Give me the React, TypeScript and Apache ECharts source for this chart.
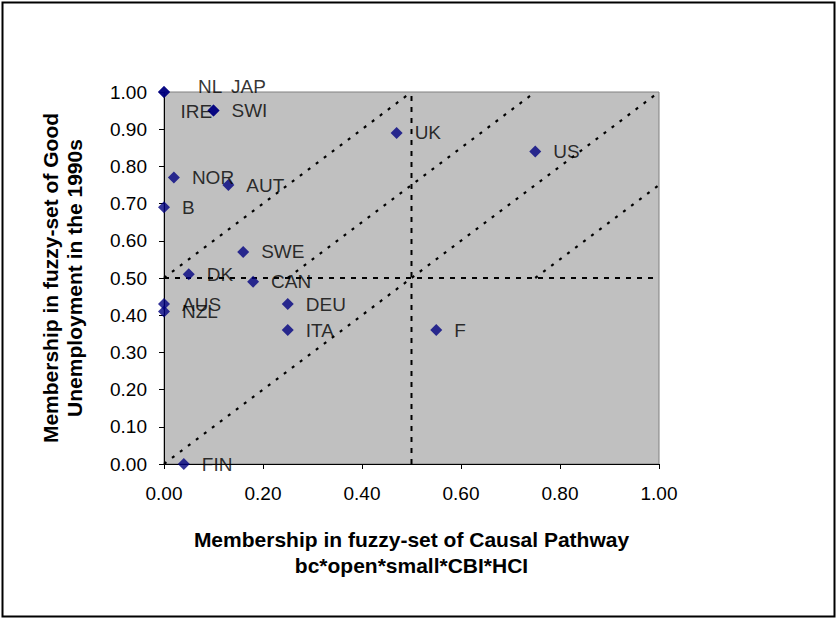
import React, { useEffect, useRef } from "react";
import * as echarts from "echarts";

// Countries and their fuzzy-set memberships
const countries = ["NL", "JAP", "IRE", "SWI", "NOR", "AUT", "B", "UK", "US", "SWE", "DK", "CAN", "AUS", "NZL", "DEU", "ITA", "F", "FIN"];
const pathwayMembership = [0.0, 0.0, 0.1, 0.1, 0.02, 0.13, 0.0, 0.47, 0.75, 0.16, 0.05, 0.18, 0.0, 0.0, 0.25, 0.25, 0.55, 0.04];
const goodUnemployment = [1.0, 1.0, 0.95, 0.95, 0.77, 0.75, 0.69, 0.89, 0.84, 0.57, 0.51, 0.49, 0.43, 0.41, 0.43, 0.36, 0.36, 0.0];

// Reference lines (in data coordinates)
const diagonalLines = [
  [[0, 0.5], [0.5, 1]],
  [[0, 0], [1, 1]],
  [[0.25, 0.5], [0.75, 1]],
  [[0.75, 0.5], [1, 0.75]],
];
const thresholdLines = [
  [[0, 0.5], [1, 0.5]],
  [[0.5, 0], [0.5, 1]],
];

const xTitle = "Membership in fuzzy-set of Causal Pathway\nbc*open*small*CBI*HCI";
const yTitle = "Membership in fuzzy-set of Good\nUnemployment in the 1990s";

// Label nudges (styling only)
const labelOffsets: Record<string, number[]> = {
  NL: [16, -6],
  JAP: [49, -6],
  IRE: [-51, 1],
};

const FONT = '"Liberation Sans", Arial, sans-serif';

export default function App() {
  const ref = useRef<HTMLDivElement>(null);
  useEffect(() => {
    if (!ref.current) return;
    const chart = echarts.init(ref.current, undefined, { renderer: "svg" });
    const points = countries.map((name, i) => ({
      name,
      value: [pathwayMembership[i], goodUnemployment[i]],
      label: { offset: labelOffsets[name] || [0, 0] },
    }));
    const series: any[] = [];
    diagonalLines.forEach((seg) =>
      series.push({
        type: "line",
        data: seg,
        showSymbol: false,
        symbol: "none",
        silent: true,
        z: 1,
        lineStyle: { color: "#000", width: 2.2, type: [3, 7] },
      })
    );
    thresholdLines.forEach((seg) =>
      series.push({
        type: "line",
        data: seg,
        showSymbol: false,
        symbol: "none",
        silent: true,
        z: 1,
        lineStyle: { color: "#000", width: 2, type: [5, 6] },
      })
    );
    series.push({
      type: "scatter",
      data: points,
      symbol: "diamond",
      symbolSize: 12,
      z: 5,
      itemStyle: { color: "#000080" },
      label: {
        show: true,
        position: "right",
        distance: 12,
        formatter: "{b}",
        fontSize: 19,
        fontFamily: FONT,
        color: "#000",
      },
    });
    chart.setOption({
      animation: false,
      backgroundColor: "#fff",
      textStyle: { fontFamily: FONT },
      graphic: [
        {
          type: "rect",
          shape: { x: 2.5, y: 2.5, width: 832, height: 614 },
          style: { fill: "none", stroke: "#000", lineWidth: 2 },
          silent: true,
        },
      ],
      grid: {
        left: 164,
        top: 92,
        width: 495,
        height: 372,
        show: true,
        backgroundColor: "#C0C0C0",
        borderColor: "#808080",
        borderWidth: 1,
      },
      xAxis: {
        type: "value",
        min: 0,
        max: 1,
        interval: 0.2,
        name: xTitle,
        nameLocation: "middle",
        nameGap: 62,
        nameTextStyle: { fontSize: 21, fontWeight: "bold", lineHeight: 26, color: "#000", fontFamily: FONT },
        axisLine: { lineStyle: { color: "#000", width: 1 } },
        axisTick: { show: true, inside: false, length: 5, lineStyle: { color: "#000" } },
        axisLabel: { fontSize: 19, color: "#000", margin: 20, fontFamily: FONT, formatter: (v: number) => v.toFixed(2) },
        splitLine: { show: false },
      },
      yAxis: {
        type: "value",
        min: 0,
        max: 1,
        interval: 0.1,
        name: yTitle,
        nameLocation: "middle",
        nameRotate: 90,
        nameGap: 78,
        nameTextStyle: { fontSize: 21, fontWeight: "bold", lineHeight: 24, color: "#000", fontFamily: FONT },
        axisLine: { lineStyle: { color: "#000", width: 1 } },
        axisTick: { show: true, inside: false, length: 5, lineStyle: { color: "#000" } },
        axisLabel: { fontSize: 19, color: "#000", margin: 17, fontFamily: FONT, formatter: (v: number) => v.toFixed(2) },
        splitLine: { show: false },
      },
      series,
    });
    return () => chart.dispose();
  }, []);
  return (
    <div
      ref={ref}
      style={{ position: "absolute", left: 0, top: 0, width: 837, height: 619 }}
    />
  );
}
